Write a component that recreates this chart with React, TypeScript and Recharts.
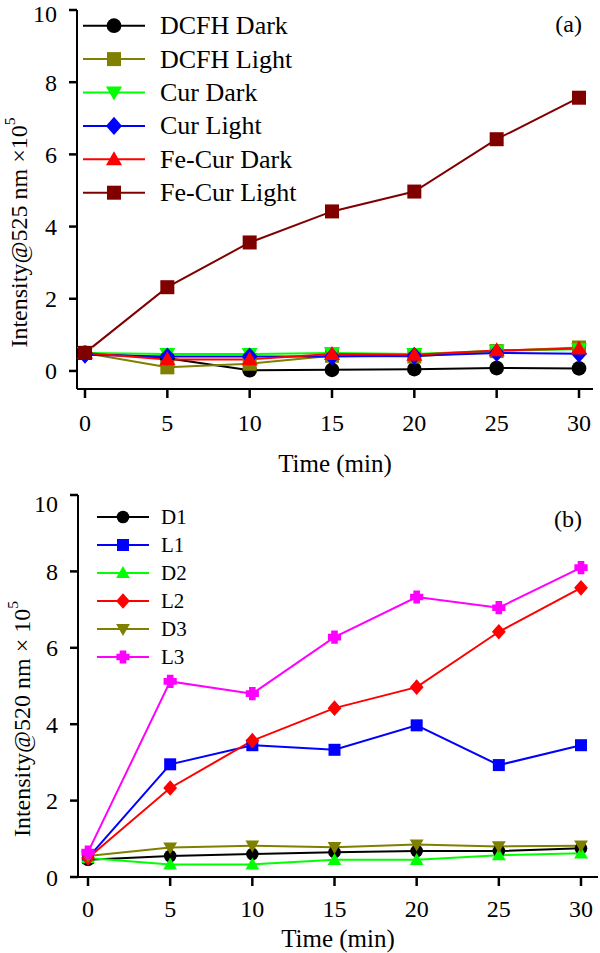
import React from 'react';
import { LineChart, Line, XAxis, YAxis, Legend } from 'recharts';

const FONT = "'Liberation Serif', 'Times New Roman', serif";

const times = [0, 5, 10, 15, 20, 25, 30];
const xTicks = [0, 5, 10, 15, 20, 25, 30];
const yTicks = [0, 2, 4, 6, 8, 10];

// Panel (a)
const namesA = ['DCFH Dark', 'DCFH Light', 'Cur Dark', 'Cur Light', 'Fe-Cur Dark', 'Fe-Cur Light'];
const dcfhDark = [0.5, 0.35, 0.02, 0.03, 0.05, 0.08, 0.07];
const dcfhLight = [0.5, 0.1, 0.2, 0.42, 0.4, 0.55, 0.65];
const curDark = [0.5, 0.47, 0.47, 0.5, 0.47, 0.56, 0.6];
const curLight = [0.45, 0.4, 0.4, 0.4, 0.42, 0.5, 0.48];
const feCurDark = [0.5, 0.32, 0.32, 0.47, 0.45, 0.57, 0.62];
const feCurLight = [0.5, 2.32, 3.56, 4.42, 4.97, 6.42, 7.57];

// Panel (b)
const namesB = ['D1', 'L1', 'D2', 'L2', 'D3', 'L3'];
const d1 = [0.45, 0.55, 0.6, 0.65, 0.68, 0.68, 0.75];
const l1 = [0.5, 2.95, 3.45, 3.33, 3.97, 2.93, 3.45];
const d2 = [0.5, 0.33, 0.33, 0.45, 0.45, 0.57, 0.62];
const l2 = [0.5, 2.33, 3.57, 4.42, 4.97, 6.42, 7.57];
const d3 = [0.55, 0.77, 0.82, 0.78, 0.85, 0.8, 0.82];
const l3 = [0.65, 5.12, 4.8, 6.28, 7.33, 7.05, 8.1];

const seriesA = [dcfhDark, dcfhLight, curDark, curLight, feCurDark, feCurLight];
const seriesB = [d1, l1, d2, l2, d3, l3];

const colorsA = ['#000000', '#808000', '#00FF00', '#0000FF', '#FF0000', '#800000'];
const shapesA = ['circle', 'square', 'down', 'diamond', 'up', 'square'];
const colorsB = ['#000000', '#0000FF', '#00FF00', '#FF0000', '#808000', '#FF00FF'];
const shapesB = ['circle', 'square', 'up', 'diamond', 'down', 'plus'];

const dataA = times.map((t, i) => {
  const row: any = { t };
  seriesA.forEach((s, k) => (row['s' + k] = s[i]));
  return row;
});
const dataB = times.map((t, i) => {
  const row: any = { t };
  seriesB.forEach((s, k) => (row['s' + k] = s[i]));
  return row;
});

function Marker({ shape, cx, cy, r, fill }: any) {
  if (cx == null || cy == null) return null;
  switch (shape) {
    case 'circle':
      return <circle cx={cx} cy={cy} r={r * 1.05} fill={fill} />;
    case 'square':
      return <rect x={cx - r} y={cy - r} width={2 * r} height={2 * r} fill={fill} />;
    case 'down':
      return (
        <path
          d={`M${cx - r * 1.15},${cy - r * 0.85} L${cx + r * 1.15},${cy - r * 0.85} L${cx},${cy + r * 1.15} Z`}
          fill={fill}
        />
      );
    case 'up':
      return (
        <path
          d={`M${cx - r * 1.15},${cy + r * 0.85} L${cx + r * 1.15},${cy + r * 0.85} L${cx},${cy - r * 1.15} Z`}
          fill={fill}
        />
      );
    case 'diamond':
      return (
        <path
          d={`M${cx},${cy - r * 1.3} L${cx + r * 1.15},${cy} L${cx},${cy + r * 1.3} L${cx - r * 1.15},${cy} Z`}
          fill={fill}
        />
      );
    case 'plus': {
      const a = r * 1.1;
      const b = r * 0.55;
      return (
        <path
          d={`M${cx - b},${cy - a} L${cx + b},${cy - a} L${cx + b},${cy - b} L${cx + a},${cy - b} L${cx + a},${cy + b} L${cx + b},${cy + b} L${cx + b},${cy + a} L${cx - b},${cy + a} L${cx - b},${cy + b} L${cx - a},${cy + b} L${cx - a},${cy - b} L${cx - b},${cy - b} Z`}
          fill={fill}
        />
      );
    }
    default:
      return null;
  }
}

const makeDot = (shape: string, color: string, r: number, id: string) => (props: any) => (
  <Marker key={`${id}-${props.index}`} shape={shape} cx={props.cx} cy={props.cy} r={r} fill={color} />
);

function LegendBox({ names, colors, shapes, rowH, lineLen, gap, fontSize, r }: any) {
  return (
    <svg width={280} height={names.length * rowH} style={{ display: 'block', overflow: 'visible' }}>
      {names.map((n: string, i: number) => {
        const cy = rowH * i + rowH / 2;
        return (
          <g key={n}>
            <line x1={0} x2={lineLen} y1={cy} y2={cy} stroke={colors[i]} strokeWidth={2} />
            <Marker shape={shapes[i]} cx={lineLen / 2} cy={cy} r={r} fill={colors[i]} />
            <text
              x={lineLen + gap}
              y={cy}
              dominantBaseline="central"
              fontSize={fontSize}
              fontFamily={FONT}
              fill="#000"
            >
              {n}
            </text>
          </g>
        );
      })}
    </svg>
  );
}

function YTitle({ viewBox, text, cxPos, dyShift, fontSize }: any) {
  const vb = viewBox || { x: 0, y: 0, width: 0, height: 0 };
  const cy = vb.y + vb.height / 2 + (dyShift || 0);
  const cx = cxPos;
  return (
    <text
      x={cx}
      y={cy}
      transform={`rotate(-90 ${cx} ${cy})`}
      textAnchor="middle"
      dominantBaseline="central"
      fontSize={fontSize}
      fontFamily={FONT}
      fill="#000"
    >
      {text}
      <tspan dy={-fontSize * 0.4} fontSize={fontSize * 0.65}>
        5
      </tspan>
    </text>
  );
}

const tickStyle = { fill: '#000', fontSize: 24, fontFamily: FONT };

const panelLabel = (top: number, right: number): React.CSSProperties => ({
  position: 'absolute',
  top,
  right,
  fontFamily: FONT,
  fontSize: 24,
  lineHeight: '26px',
  color: '#000',
});

export default function App() {
  return (
    <div style={{ position: 'absolute', left: 0, top: 0, width: 600, height: 953, background: '#fff' }}>
      <div style={{ position: 'absolute', left: 0, top: 0 }}>
        <LineChart width={600} height={490} data={dataA} margin={{ top: 10, right: 7, bottom: 0, left: 0 }}>
          <XAxis
            dataKey="t"
            type="number"
            domain={[0, 30]}
            ticks={xTicks}
            padding={{ left: 8, right: 14 }}
            height={101}
            tickSize={9}
            tickMargin={16}
            axisLine={{ stroke: '#000', strokeWidth: 2 }}
            tickLine={{ stroke: '#000', strokeWidth: 2.5 }}
            tick={tickStyle}
            label={{ value: 'Time (min)', position: 'insideBottom', offset: 18, fill: '#000', fontSize: 25, fontFamily: FONT }}
          />
          <XAxis
            xAxisId="top"
            orientation="top"
            type="number"
            domain={[0, 30]}
            height={0}
            tick={false}
            tickLine={false}
            axisLine={{ stroke: '#000', strokeWidth: 1.5 }}
          />
          <YAxis
            type="number"
            domain={[-0.5, 10]}
            ticks={yTicks}
            width={77}
            tickSize={8}
            tickMargin={12}
            axisLine={{ stroke: '#000', strokeWidth: 2 }}
            tickLine={{ stroke: '#000', strokeWidth: 2.5 }}
            tick={tickStyle}
            label={<YTitle text="Intensity@525 nm ×10" cxPos={19} dyShift={33} fontSize={24} />}
          />
          <YAxis
            yAxisId="right"
            orientation="right"
            width={0}
            tick={false}
            tickLine={false}
            axisLine={{ stroke: '#000', strokeWidth: 1.5 }}
          />
          <Legend
            layout="vertical"
            align="center"
            verticalAlign="middle"
            wrapperStyle={{ left: 83, top: 9, width: 280, height: 200 }}
            content={() => (
              <LegendBox names={namesA} colors={colorsA} shapes={shapesA} rowH={33.4} lineLen={62} gap={15} fontSize={26} r={7} />
            )}
          />
          {seriesA.map((_, k) => (
            <Line
              key={k}
              dataKey={'s' + k}
              name={namesA[k]}
              stroke={colorsA[k]}
              strokeWidth={2}
              dot={makeDot(shapesA[k], colorsA[k], 7, 'a' + k)}
              activeDot={false}
              isAnimationActive={false}
            />
          ))}
        </LineChart>
        <div style={panelLabel(11, 18)}>(a)</div>
      </div>
      <div style={{ position: 'absolute', left: 0, top: 490, width: 600, height: 463 }}>
        <LineChart width={600} height={463} data={dataB} margin={{ top: 5, right: 2, bottom: 0, left: 0 }}>
          <XAxis
            dataKey="t"
            type="number"
            domain={[0, 30]}
            ticks={xTicks}
            padding={{ left: 10, right: 17 }}
            height={76}
            tickSize={9}
            tickMargin={14}
            axisLine={{ stroke: '#000', strokeWidth: 2 }}
            tickLine={{ stroke: '#000', strokeWidth: 2.5 }}
            tick={tickStyle}
            label={{ value: 'Time (min)', position: 'insideBottom', offset: 6, fill: '#000', fontSize: 25, fontFamily: FONT }}
          />
          <XAxis
            xAxisId="top"
            orientation="top"
            type="number"
            domain={[0, 30]}
            height={0}
            tick={false}
            tickLine={false}
            axisLine={{ stroke: '#000', strokeWidth: 1.5 }}
          />
          <YAxis
            type="number"
            domain={[0, 10]}
            ticks={yTicks}
            width={78}
            tickSize={8}
            tickMargin={12}
            axisLine={{ stroke: '#000', strokeWidth: 2 }}
            tickLine={{ stroke: '#000', strokeWidth: 2.5 }}
            tick={tickStyle}
            label={<YTitle text="Intensity@520 nm × 10" cxPos={22} dyShift={33} fontSize={24} />}
          />
          <YAxis
            yAxisId="right"
            orientation="right"
            width={0}
            tick={false}
            tickLine={false}
            axisLine={{ stroke: '#000', strokeWidth: 1.5 }}
          />
          <Legend
            layout="vertical"
            align="center"
            verticalAlign="middle"
            wrapperStyle={{ left: 97, top: 13, width: 280, height: 170 }}
            content={() => (
              <LegendBox names={namesB} colors={colorsB} shapes={shapesB} rowH={28} lineLen={52} gap={12} fontSize={21} r={6} />
            )}
          />
          {seriesB.map((_, k) => (
            <Line
              key={k}
              dataKey={'s' + k}
              name={namesB[k]}
              stroke={colorsB[k]}
              strokeWidth={2}
              dot={makeDot(shapesB[k], colorsB[k], 6, 'b' + k)}
              activeDot={false}
              isAnimationActive={false}
            />
          ))}
        </LineChart>
        <div style={panelLabel(16, 18)}>(b)</div>
      </div>
    </div>
  );
}
